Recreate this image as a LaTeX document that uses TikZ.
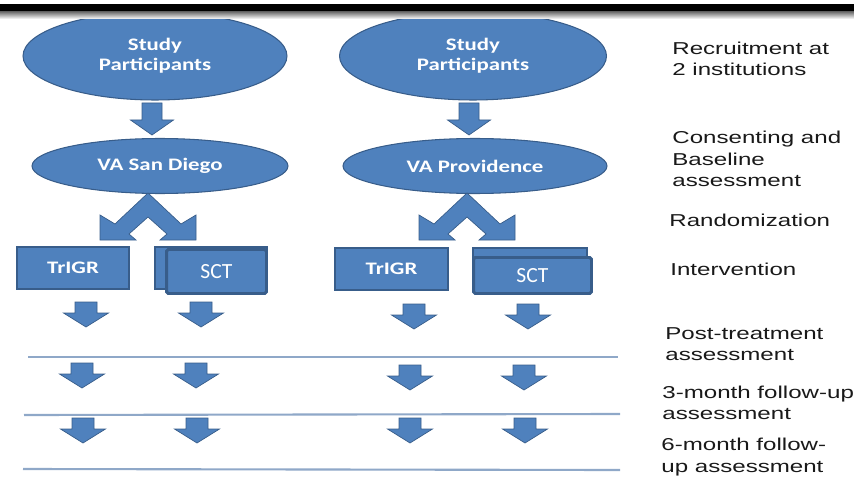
\documentclass[tikz,border=0pt]{standalone}
\usepackage{fontspec}
\setmainfont{Liberation Sans}[FakeStretch=1.4]
\newfontfamily\calibri{Carlito}[FakeStretch=1.3]
\newfontfamily\calibriplain{Carlito}
\usetikzlibrary{shapes.geometric,positioning}
\definecolor{pptblue}{HTML}{4F81BD}
\definecolor{pptedge}{HTML}{385D8A}
\definecolor{rulecol}{HTML}{8FA8C8}

\begin{document}
\begin{tikzpicture}[x=0.02cm,y=-0.02cm,
	site/.style={ellipse, fill=pptblue, draw=pptedge, line width=0.6pt, text=white, inner sep=0pt, align=center, font=\calibri\bfseries\fontsize{10}{11.3}\selectfont},
	arm/.style={rectangle, fill=pptblue, draw=pptedge, line width=0.6pt, text=white, minimum width=2.24cm, minimum height=0.84cm, font=\calibri\bfseries\fontsize{10}{12}\selectfont},
	sct/.style={rectangle, rounded corners=1pt, fill=pptblue, draw=pptedge, line width=1.7pt, text=white, font=\calibriplain\fontsize{12.3}{14}\selectfont},
	blockarr/.style={fill=pptblue, draw=pptedge, line width=0.4pt},
	phasetxt/.style={anchor=west, align=left, inner sep=0pt, text=black!90, font=\fontsize{9.8}{12.3}\selectfont},
	divider/.style={draw=rulecol, line width=1.2pt}]

	\useasboundingbox (0,0) rectangle (854,476);

	% recruitment
	\node[site, minimum width=5.28cm, minimum height=1.76cm] (sp1) at (155,56) {Study\\Participants};
	\node[site, minimum width=5.34cm, minimum height=1.76cm] (sp2) at (473,56) {Study\\Participants};

	% top bar
	\fill[black] (0,4) rectangle (854,12);
	\shade[top color=black!55, bottom color=white] (0,12) rectangle (854,19);

	\foreach \x in {152,469}
		\filldraw[blockarr, shift={(\x,103)}]
			(-10,0) -- (10,0) -- (10,17) -- (21.5,17) -- (0,32) -- (-21.5,17) -- (-10,17) -- cycle;

	% sites
	\node[site, minimum width=5.12cm, minimum height=1.1cm] (sd) at (160,166) {VA San Diego};
	\node[site, minimum width=5.28cm, minimum height=1.1cm] (pv) at (475,166) {VA Providence};

	% randomization
	\foreach \cx in {148,467}
		\filldraw[blockarr, shift={(\cx,0)}]
			(0,193) -- (33,224) -- (48,215) -- (48,240) -- (12,240) -- (19,234) -- (0,217)
			-- (-19,234) -- (-12,240) -- (-48,240) -- (-48,215) -- (-33,224) -- cycle;

	% intervention
	\node[arm] (tg1) at (73,268) {TrIGR};
	\node[arm] (sb1) at (211,268) {};
	\node[sct, minimum width=2cm, minimum height=0.88cm] (sct1) at (216.5,271.5) {SCT};

	\node[arm, minimum width=2.26cm] (tg2) at (391.5,269) {TrIGR};
	\node[arm, minimum width=2.28cm] (sb2) at (530,269) {};
	\node[sct, minimum width=2.36cm, minimum height=0.72cm] (sct2) at (532.5,275.5) {SCT};

	% follow-up
	\foreach \x/\y in {86/302, 201/302, 414/304, 528/304,
		82/363, 196/363, 410/365, 524/365,
		83/418, 197/418, 410/418, 525/418}
		\filldraw[blockarr, shift={(\x,\y)}]
			(-11,0) -- (11,0) -- (11,11) -- (22.5,11) -- (0,25) -- (-22.5,11) -- (-11,11) -- cycle;

	\draw[divider] (28,357) -- (618,357);
	\draw[divider] (24,415) -- (620,414);
	\draw[divider] (23,469) -- (620,470);

	% phases
	\node[phasetxt] (recruit) at (672,59) {Recruitment at\\2 institutions};
	\node[phasetxt] (consent) at (672,159) {Consenting and\\Baseline\\assessment};
	\node[phasetxt] (random) at (669,220) {Randomization};
	\node[phasetxt] (interv) at (670,269) {Intervention};
	\node[phasetxt] (post) at (665,344) {Post-treatment\\assessment};
	\node[phasetxt] (three) at (662,403) {3-month follow-up\\assessment};
	\node[phasetxt] (six) at (661,457) {6-month follow-\\up assessment};

\end{tikzpicture}
\end{document}
